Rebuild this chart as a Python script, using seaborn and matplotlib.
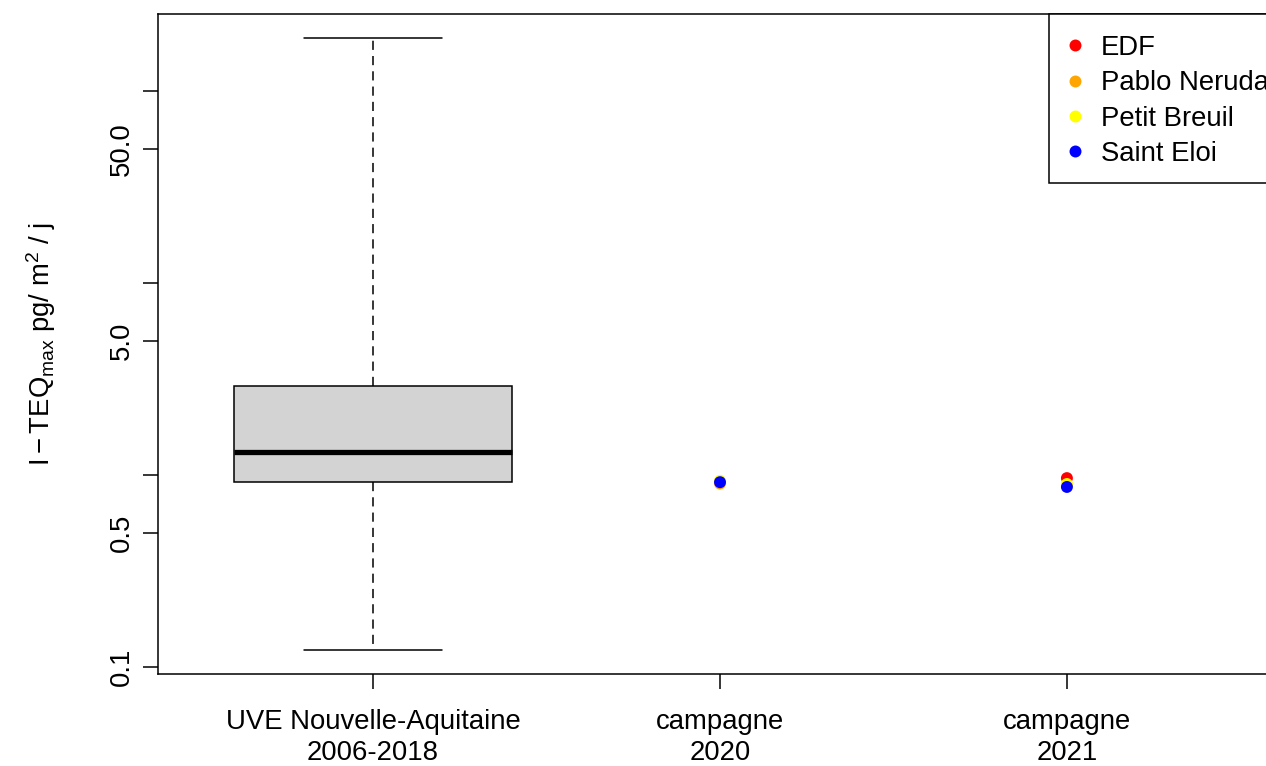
import numpy as np
import pandas as pd
import matplotlib
matplotlib.use("Agg")
import matplotlib.pyplot as plt
import matplotlib.patches as mpatches
import seaborn as sns

# ---- data ----
groups = ["UVE Nouvelle-Aquitaine\n2006-2018", "campagne\n2020", "campagne\n2021"]
# five-number summary of the reference distribution (min, Q1, median, Q3, max)
ref_values = [0.123, 0.92, 1.32, 2.91, 189.0]
sites = ["EDF", "Pablo Neruda", "Petit Breuil", "Saint Eloi"]
site_colors = ["#FF0000", "#FFA500", "#FFFF00", "#0000FF"]
vals_2020 = [0.92, 0.905, 0.935, 0.92]
vals_2021 = [0.966, 0.89, 0.90, 0.869]
y_ticks = [0.1, 0.5, 1, 5, 10, 50, 100]
y_ticklabels = ["0.1", "0.5", "", "5.0", "", "50.0", ""]
ylabel = r"$\mathrm{I} - \mathrm{TEQ}_{\mathrm{max}}\ \mathrm{pg/\ m^{2}\ /\ j}$"

box_df = pd.DataFrame({"group": groups[0], "value": ref_values})
pts_df = pd.DataFrame({
    "group": [groups[1]] * len(sites) + [groups[2]] * len(sites),
    "site": sites + sites,
    "value": vals_2020 + vals_2021,
})

sns.set_style("white")
plt.rcParams["font.family"] = ["Liberation Sans", "DejaVu Sans"]
plt.rcParams["mathtext.fontset"] = "custom"
plt.rcParams["mathtext.rm"] = "Liberation Sans"
plt.rcParams["mathtext.it"] = "Liberation Sans:italic"
plt.rcParams["mathtext.bf"] = "Liberation Sans:bold"
for k in ["text.color", "axes.labelcolor", "xtick.color", "ytick.color"]:
    plt.rcParams[k] = "black"

FS = 19.8
W, H = 1266, 766
AX_L, AX_R, AX_T, AX_B = 158, 1282, 14, 674
fig = plt.figure(figsize=(12.66, 7.66), dpi=100)
ax = fig.add_axes([AX_L / W, 1 - AX_B / H, (AX_R - AX_L) / W, (AX_B - AX_T) / H])
ax.set_yscale("log")

sns.boxplot(
    data=box_df, x="group", y="value", order=groups, ax=ax,
    whis=(0, 100), width=0.8, color="#D3D3D3", linecolor="black",
    linewidth=1.1, saturation=1,
    medianprops=dict(linewidth=3.8, color="black"),
    whiskerprops=dict(linestyle=(0, (6, 4)), linewidth=1.1, color="black"),
    capprops=dict(linewidth=1.1, color="black"),
    boxprops=dict(linewidth=1.1, edgecolor="black"),
)

sns.stripplot(
    data=pts_df, x="group", y="value", hue="site", order=groups,
    hue_order=sites, palette=site_colors, jitter=False, dodge=False,
    size=8.6, linewidth=0, ax=ax, zorder=5,
)

ax.set_xlim(-0.62, 2.62)
ax.set_ylim(0.0922, 252.5)
ax.set_yticks(y_ticks)
ax.set_yticklabels(y_ticklabels, rotation=90, va="center", fontsize=FS)
ax.yaxis.set_minor_locator(matplotlib.ticker.NullLocator())
ax.tick_params(axis="both", which="major", length=11, width=1.1, color="black",
               direction="out", left=True, bottom=True, labelsize=FS, pad=6,
               labelcolor="black")
ax.tick_params(axis="x", pad=14)
for lab in ax.get_xticklabels():
    lab.set_linespacing(1.25)
ax.set_xlabel("")
ax.set_ylabel(ylabel, fontsize=FS, labelpad=36, color="black")
for sp in ax.spines.values():
    sp.set_visible(True)
    sp.set_color("black")
    sp.set_linewidth(1.1)

def ax_frac(px, py):
    return ((px - AX_L) / (AX_R - AX_L), (AX_B - py) / (AX_B - AX_T))

# legend frame (topright, flush with the plot border)
fx0, fy0 = ax_frac(1049, 183)
frame = mpatches.Rectangle((fx0, fy0), 1.0 - fx0, 1.0 - fy0, transform=ax.transAxes,
                           facecolor="white", edgecolor="black", linewidth=1.1,
                           clip_on=False, zorder=6)
ax.add_patch(frame)

handles, labels = ax.get_legend_handles_labels()
leg = ax.legend(handles, labels, loc="upper left", bbox_to_anchor=ax_frac(1063.5, 35),
                borderaxespad=0, borderpad=0, frameon=False,
                fontsize=FS, handlelength=0.82, handletextpad=0.54,
                labelspacing=0.34, markerscale=1.0)
leg.set_zorder(7)
for t in leg.get_texts():
    t.set_color("black")

fig.savefig("out.png", dpi=100)
